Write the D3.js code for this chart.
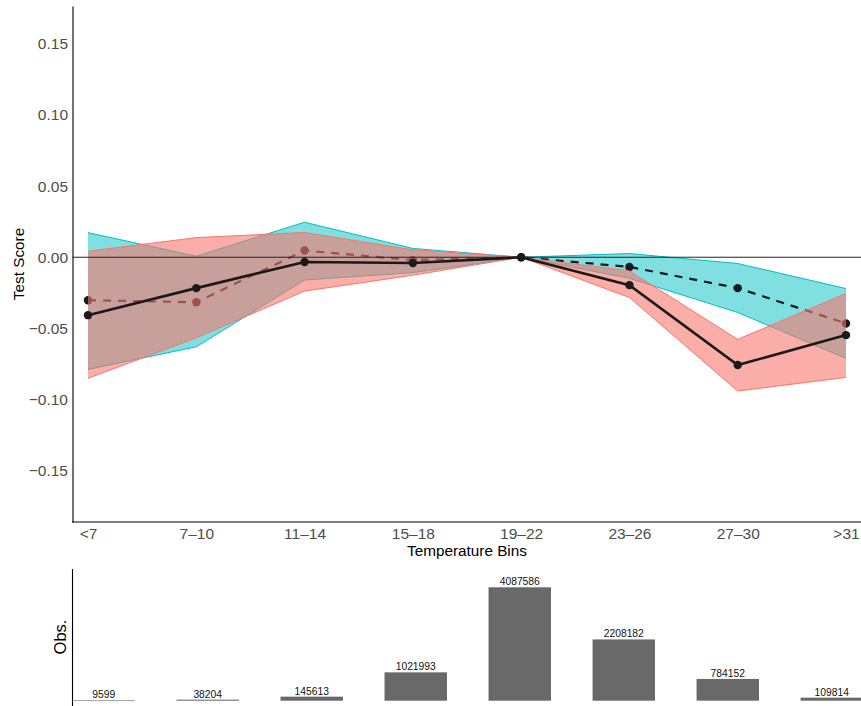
<!DOCTYPE html>
<html>
<head>
<meta charset="utf-8">
<script src="https://cdn.jsdelivr.net/npm/d3@7"></script>
<style>
  html, body { margin: 0; padding: 0; background: #fff; }
  svg { display: block; font-family: "Liberation Sans", Arial, Helvetica, sans-serif; }
</style>
</head>
<body>
<svg id="chart" width="861" height="706"></svg>
<script>
// ---- data ----
const categories = ["<7", "7\u201310", "11\u201314", "15\u201318", "19\u201322", "23\u201326", "27\u201330", ">31"];
// solid line (red band)
const solidEst = [-0.0407, -0.0217, -0.0033, -0.0040, 0, -0.0196, -0.0757, -0.0547];
const solidLow = [-0.0851, -0.0566, -0.0238, -0.0126, 0, -0.0283, -0.0940, -0.0844];
const solidHigh = [0.0042, 0.0138, 0.0174, 0.0052, 0, -0.0096, -0.0577, -0.0255];
// dashed line (cyan band)
const dashedEst = [-0.0302, -0.0316, 0.0047, -0.0020, 0, -0.0068, -0.0217, -0.0465];
const dashedLow = [-0.0788, -0.0629, -0.0160, -0.0108, 0, -0.0148, -0.0388, -0.0711];
const dashedHigh = [0.0173, 0.0007, 0.0246, 0.0062, 0, 0.0026, -0.0044, -0.0220];
// observations per bin
const observations = [9599, 38204, 145613, 1021993, 4087586, 2208182, 784152, 109814];
const yTicks = [-0.15, -0.10, -0.05, 0.00, 0.05, 0.10, 0.15];

const svg = d3.select("#chart");

// ---- top panel ----
const x = d3.scalePoint().domain(categories).range([88, 846]);
const y = d3.scaleLinear().domain([-0.186, 0.1765]).range([522, 6]);

const rows = categories.map((c, i) => ({
  c, s: solidEst[i], sl: solidLow[i], sh: solidHigh[i],
  d: dashedEst[i], dl: dashedLow[i], dh: dashedHigh[i]
}));

const topG = svg.append("g");

function band(lowKey, highKey, fill, opacity, stroke) {
  const area = d3.area().x(r => x(r.c)).y0(r => y(r[lowKey])).y1(r => y(r[highKey]));
  topG.append("path").datum(rows).attr("d", area)
    .attr("fill", fill).attr("fill-opacity", opacity).attr("stroke", "none");
  [lowKey, highKey].forEach(k => {
    topG.append("path").datum(rows)
      .attr("d", d3.line().x(r => x(r.c)).y(r => y(r[k])))
      .attr("fill", "none").attr("stroke", stroke).attr("stroke-width", 1);
  });
}

function series(key, dash, width) {
  topG.append("path").datum(rows)
    .attr("d", d3.line().x(r => x(r.c)).y(r => y(r[key])))
    .attr("fill", "none").attr("stroke", "#1a1a1a").attr("stroke-width", width)
    .attr("stroke-dasharray", dash);
  topG.selectAll(null).data(rows).enter().append("circle")
    .attr("cx", r => x(r.c)).attr("cy", r => y(r[key])).attr("r", 4.2)
    .attr("fill", "#1a1a1a");
}

band("dl", "dh", "#00BFC4", 0.5, "#00BFC4");
series("d", "8,7", 2.2);
band("sl", "sh", "#F8766D", 0.6, "#F8766D");
// zero line
topG.append("line").attr("x1", 72.5).attr("x2", 861).attr("y1", y(0)).attr("y2", y(0))
  .attr("stroke", "#222").attr("stroke-width", 1);
series("s", null, 2.6);

// y axis
const yAxis = d3.axisLeft(y).tickValues(yTicks).tickSize(0).tickPadding(4.5)
  .tickFormat(d3.format(".2f"));
const yg = svg.append("g").attr("transform", "translate(72.5,0)").call(yAxis);
yg.select(".domain").attr("stroke", "#000").attr("stroke-width", 1.1);
yg.selectAll("text").attr("font-size", "15.5px").attr("fill", "#4d4d4d")
  .attr("font-family", "Liberation Sans, Arial, sans-serif")
  .text(d => d3.format(".2f")(d).replace("-", "\u2212"));

// x axis
const xAxis = d3.axisBottom(x).tickSize(0).tickPadding(6);
const xg = svg.append("g").attr("transform", "translate(0,522)").call(xAxis);
xg.select(".domain").remove();
xg.selectAll("text").attr("font-size", "15.5px").attr("fill", "#4d4d4d")
  .attr("font-family", "Liberation Sans, Arial, sans-serif");
svg.append("line").attr("x1", 72).attr("x2", 861).attr("y1", 522).attr("y2", 522)
  .attr("stroke", "#000").attr("stroke-width", 1.1);

svg.append("text").attr("x", 467).attr("y", 555.5).attr("text-anchor", "middle")
  .attr("font-size", "15.3px").attr("fill", "#000").text("Temperature Bins");
svg.append("text").attr("transform", "translate(23.5,264) rotate(-90)")
  .attr("text-anchor", "middle").attr("font-size", "15.3px").attr("fill", "#000").text("Test Score");

// ---- bottom panel ----
const xb = d3.scaleBand().domain(categories).range([72.5, 863]).paddingInner(0.4).paddingOuter(0);
const yb = d3.scaleLinear().domain([-191000, 4747000]).range([706, 569]);

const bars = svg.append("g");
bars.selectAll("rect").data(observations).enter().append("rect")
  .attr("x", (d, i) => xb(categories[i])).attr("width", xb.bandwidth())
  .attr("y", d => yb(d)).attr("height", d => Math.max(yb(0) - yb(d), 0.6))
  .attr("fill", "#696969");
bars.selectAll("text").data(observations).enter().append("text")
  .attr("x", (d, i) => xb(categories[i]) + xb.bandwidth() / 2)
  .attr("y", d => yb(d) - 2)
  .attr("text-anchor", "middle").attr("font-size", "10.3px").attr("fill", "#111")
  .text(d => d);

svg.append("line").attr("x1", 72.5).attr("x2", 72.5).attr("y1", 569).attr("y2", 706)
  .attr("stroke", "#000").attr("stroke-width", 1.1);
svg.append("text").attr("transform", "translate(65.5,637) rotate(-90)")
  .attr("text-anchor", "middle").attr("font-size", "16.5px").attr("fill", "#000").text("Obs.");
</script>
</body>
</html>
